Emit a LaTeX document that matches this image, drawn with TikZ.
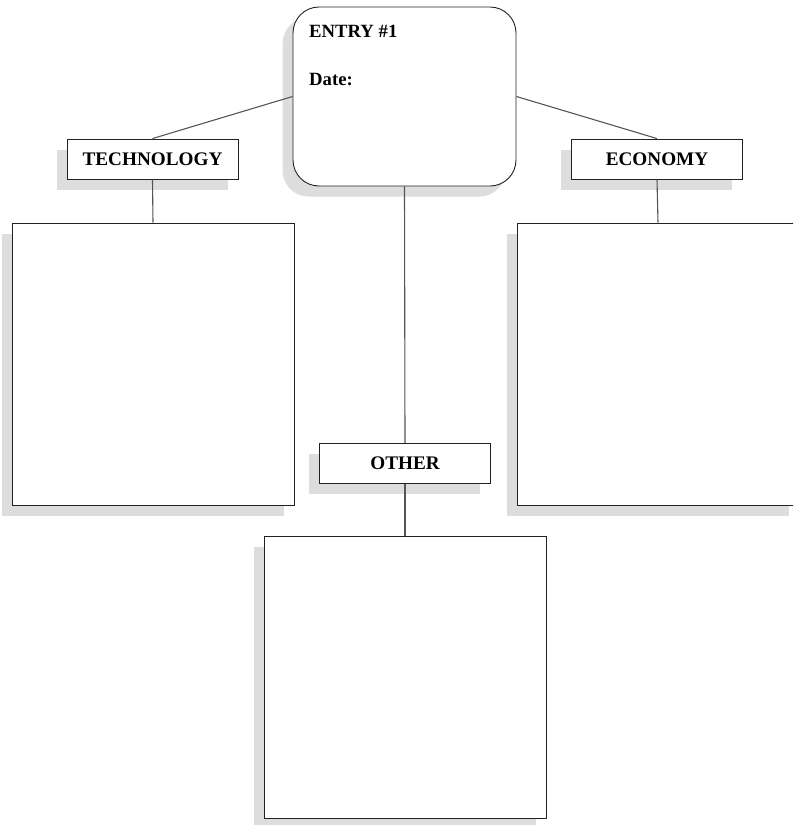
\documentclass[tikz,border=0pt]{standalone}
\usepackage{fontspec}
\setmainfont{Liberation Serif}
\usetikzlibrary{shadows}
\definecolor{shadowgray}{HTML}{DDDDDD}
\definecolor{edgegray}{HTML}{222222}
\definecolor{linkgray}{HTML}{555555}
\tikzset{
  shad/.style={drop shadow={shadow xshift=-10.5pt, shadow yshift=-10.5pt, fill=shadowgray, opacity=1}},
  bigbox/.style={draw=edgegray, line width=1pt, fill=white, shad, minimum width=282pt, minimum height=282pt, inner sep=0pt},
  tagbox/.style={draw=edgegray, line width=0.9pt, fill=white, shad, minimum width=171pt, minimum height=40pt, inner sep=0pt,
    font=\fontsize{19.2}{21}\selectfont\bfseries},
  topbox/.style={draw=edgegray, line width=0.9pt, fill=white, shad, rounded corners=26pt, minimum width=223pt, minimum height=179pt, inner sep=0pt},
  txt/.style={font=\fontsize{18.7}{20}\selectfont\bfseries, inner sep=0pt, anchor=base west},
  link/.style={draw=linkgray, line width=1.1pt}
}
\begin{document}
\begin{tikzpicture}[x=1pt,y=-1pt]
\useasboundingbox (0,0) rectangle (793,825);
\clip (0,0) rectangle (793,825);
% top rounded box
\node[topbox] (top) at (404.5,96.5) {};
\node[txt] (entry) at (309,37) {ENTRY \#1};
\node[txt] (date) at (309,85) {Date:};
% category tags
\node[tagbox] (tech) at (152.5,159) {TECHNOLOGY};
\node[tagbox] (econ) at (657,159) {ECONOMY};
\node[tagbox] (other) at (405,463.5) {OTHER};
% big boxes
\node[bigbox] (techbox) at (153,364) {};
\node[bigbox] (econbox) at (658,364) {};
\node[bigbox] (otherbox) at (405,677) {};
% connectors
\draw[link] (top.west) -- (tech.north);
\draw[link] (top.east) -- (econ.north);
\draw[link] (top.south) -- (other.north);
\draw[link] (tech.south) -- (techbox.north);
\draw[link] (econ.south) -- (econbox.north);
\draw[link] (other.south) -- (otherbox.north);
\end{tikzpicture}
\end{document}
